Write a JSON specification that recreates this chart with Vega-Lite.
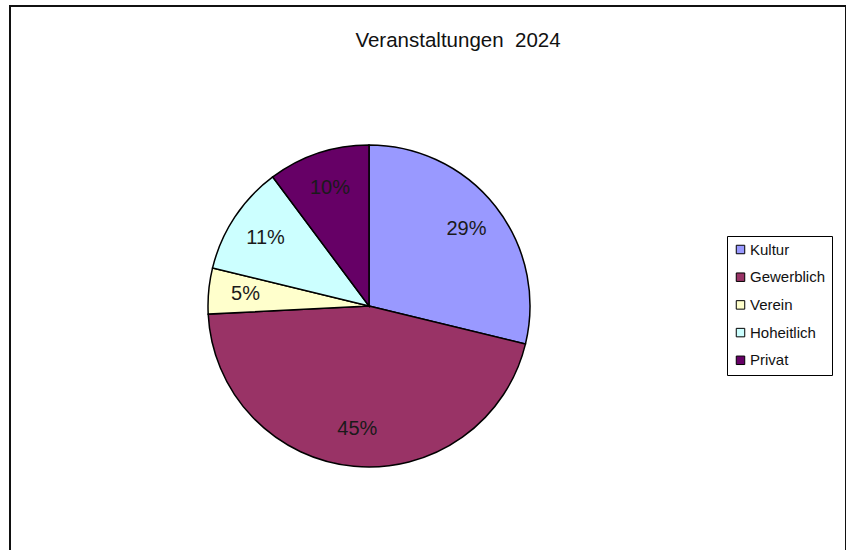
{
  "$schema": "https://vega.github.io/schema/vega-lite/v6.json",
  "width": 836,
  "height": 560,
  "padding": {"left": 10, "top": 6, "right": 0, "bottom": 0},
  "autosize": {"type": "none"},
  "background": "#ffffff",
  "view": {"stroke": "#111111", "strokeWidth": 2},
  "title": {
    "text": "Veranstaltungen\u00a0 2024",
    "font": "Liberation Sans",
    "fontSize": 20.5,
    "fontWeight": "normal",
    "color": "#111111",
    "anchor": "middle",
    "baseline": "top",
    "dx": 30,
    "dy": 49
  },
  "data": {
    "values": [
      {"category": "Kultur", "share": 0.288, "order": 1},
      {"category": "Gewerblich", "share": 0.454, "order": 2},
      {"category": "Verein", "share": 0.046, "order": 3},
      {"category": "Hoheitlich", "share": 0.110, "order": 4},
      {"category": "Privat", "share": 0.102, "order": 5}
    ]
  },
  "encoding": {
    "theta": {"field": "share", "type": "quantitative", "stack": true},
    "order": {"field": "order", "type": "quantitative"}
  },
  "layer": [
    {
      "mark": {"type": "arc", "outerRadius": 161, "stroke": "#000000", "strokeWidth": 1.5, "xOffset": -59, "yOffset": 20},
      "encoding": {
        "color": {
          "field": "category",
          "type": "nominal",
          "scale": {
            "domain": ["Kultur", "Gewerblich", "Verein", "Hoheitlich", "Privat"],
            "range": ["#9999FF", "#993366", "#FFFFCC", "#CCFFFF", "#660066"]
          },
          "legend": {
            "title": null,
            "orient": "none",
            "legendX": 717,
            "legendY": 230,
            "symbolType": "square",
            "symbolSize": 72,
            "symbolStrokeColor": "#000000",
            "symbolStrokeWidth": 1,
            "labelFont": "Liberation Sans",
            "labelFontSize": 15,
            "labelColor": "#111111",
            "labelOffset": 2,
            "rowPadding": 11.7,
            "padding": 6,
            "strokeColor": "#000000",
            "fillColor": "#ffffff"
          }
        }
      }
    },
    {
      "mark": {"type": "text", "radius": 124, "font": "Liberation Sans", "fontSize": 20, "color": "#1a1a1a", "xOffset": -59, "yOffset": 20},
      "encoding": {
        "text": {"field": "share", "type": "quantitative", "format": ".0%"}
      }
    }
  ]
}
